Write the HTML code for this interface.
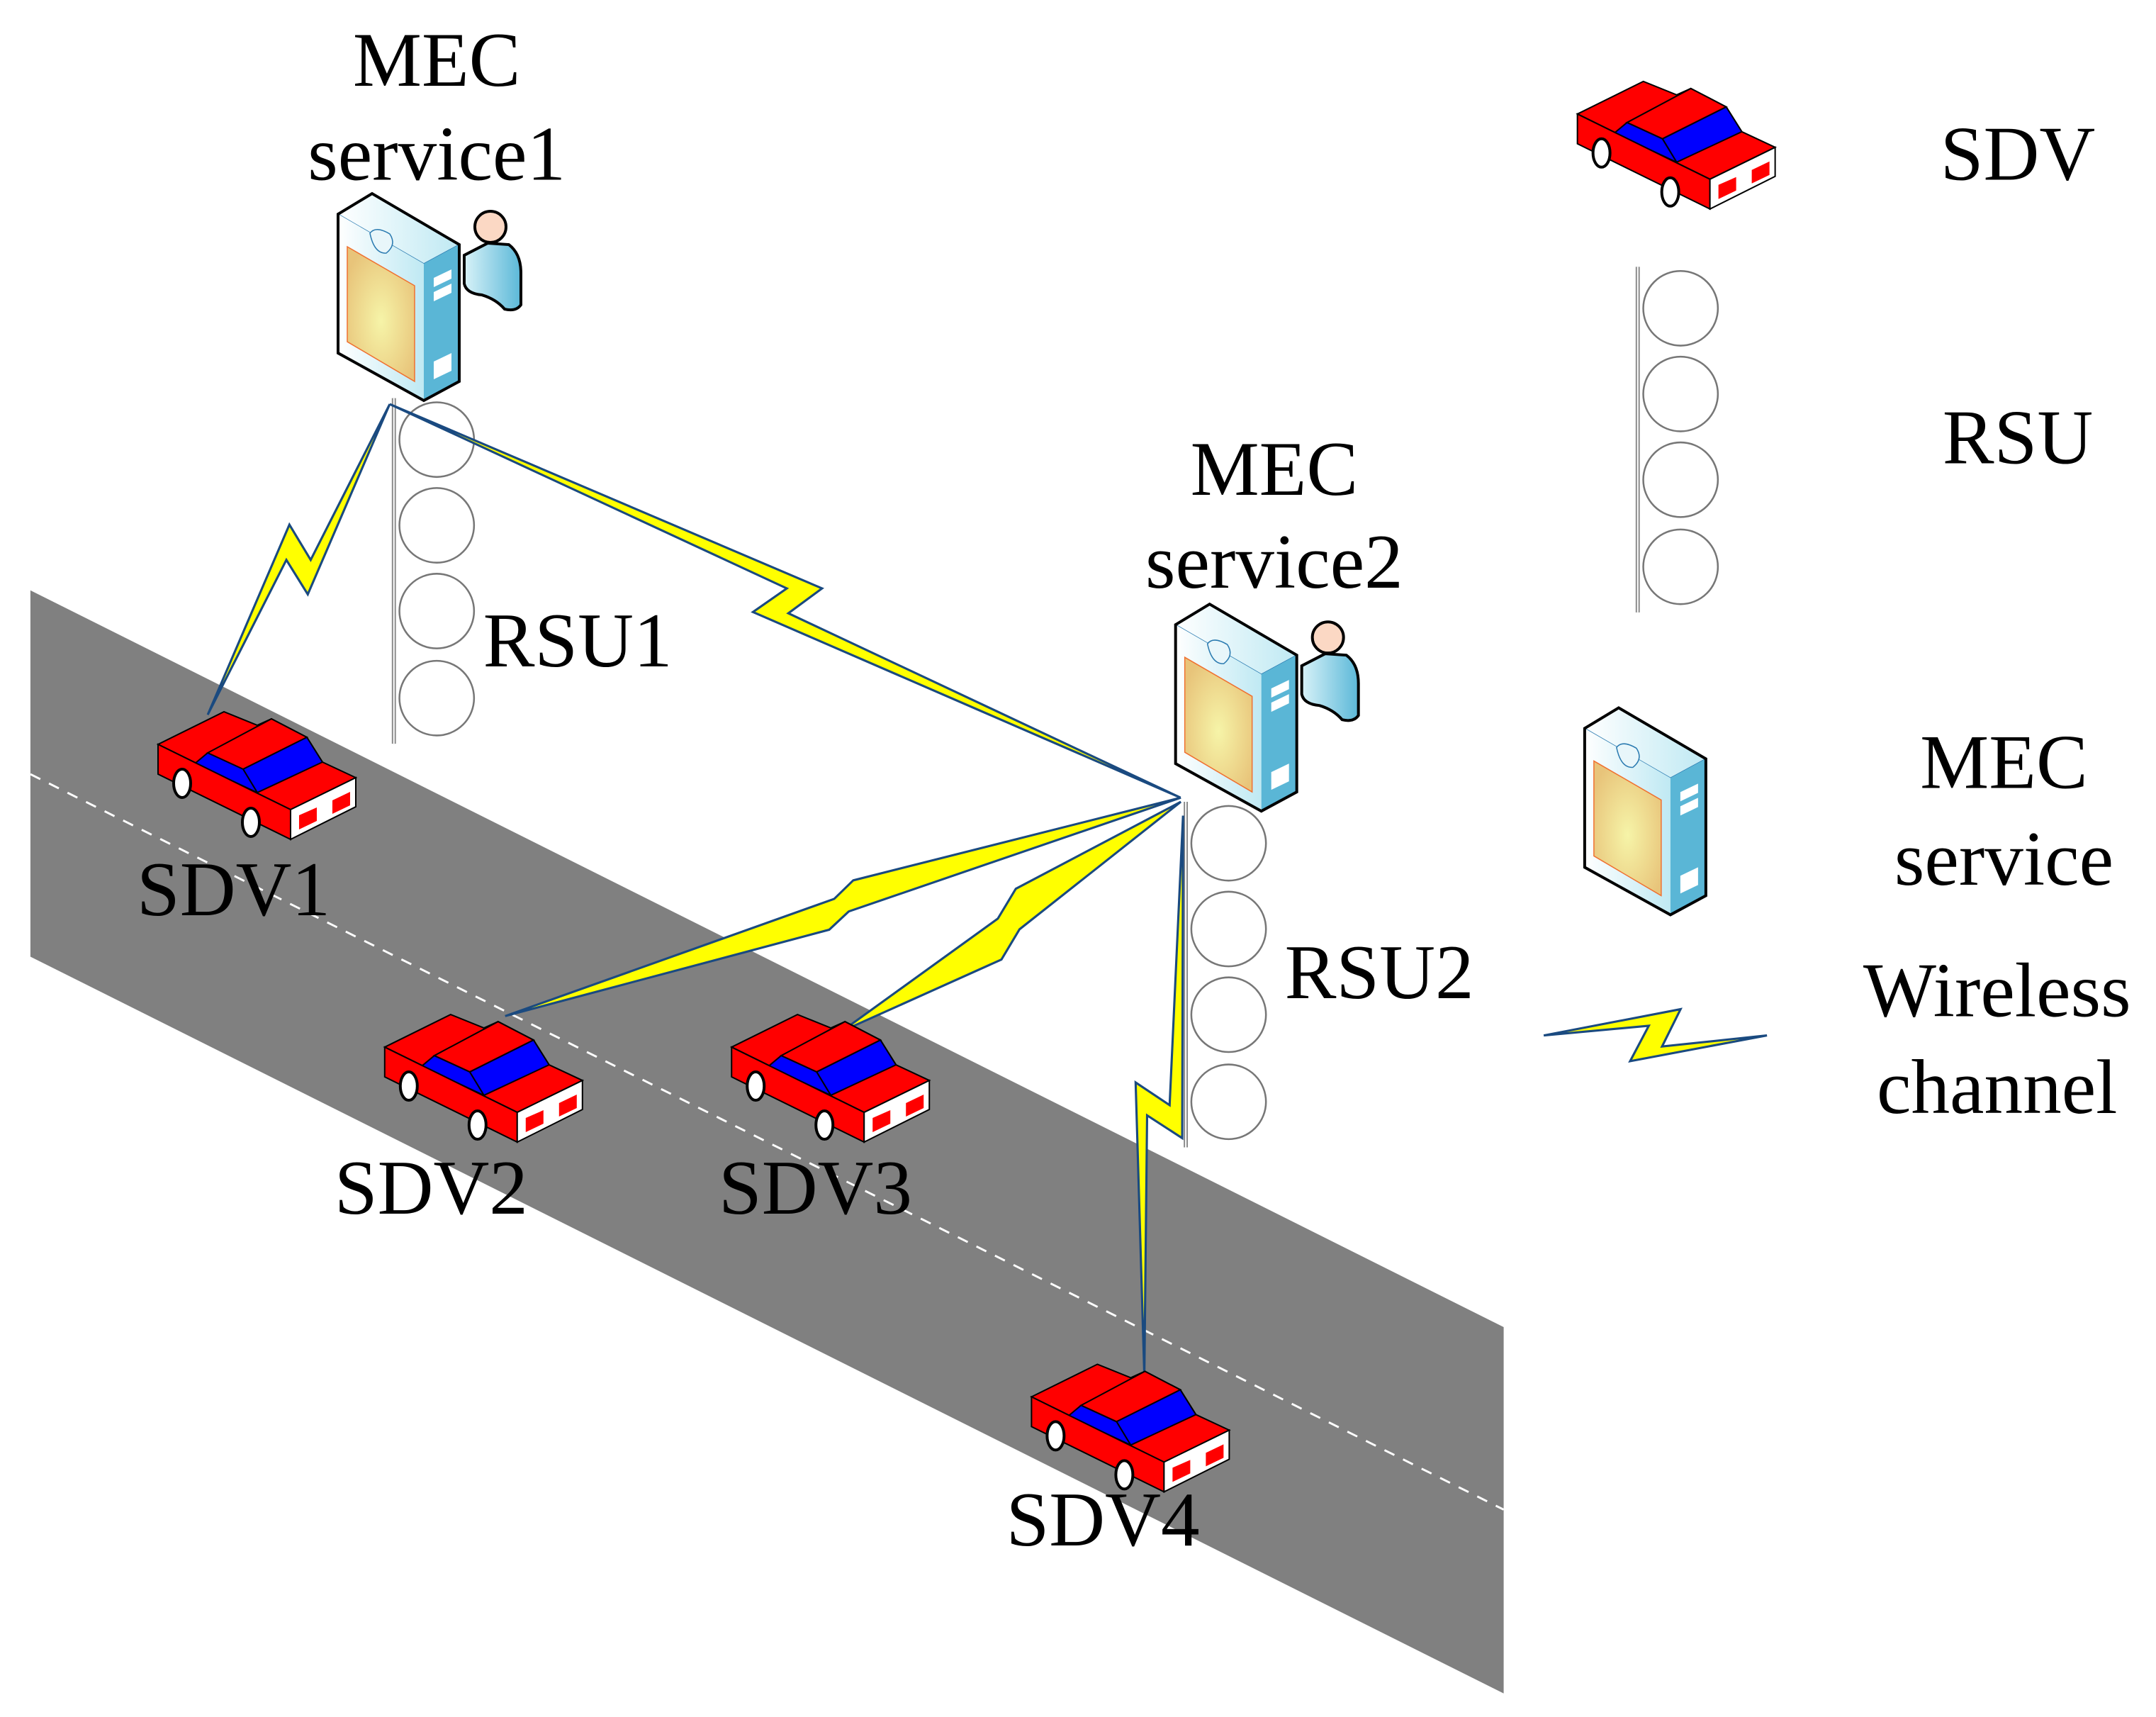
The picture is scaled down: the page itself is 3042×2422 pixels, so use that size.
<!DOCTYPE html>
<html><head><meta charset="utf-8"><style>
html,body{margin:0;padding:0;background:#fff}
svg{display:block}
text{font-family:"Liberation Serif",serif;font-size:56px;fill:#000}
</style></head><body>
<svg width="3042" height="2422" viewBox="0 0 1560 1242" xmlns="http://www.w3.org/2000/svg">
<defs>
<linearGradient id="fg" x1="0" y1="0" x2="1" y2="0"><stop offset="0" stop-color="#ffffff"/><stop offset="1" stop-color="#bfe9f3"/></linearGradient>
<radialGradient id="og" cx="0.5" cy="0.55" r="0.6"><stop offset="0" stop-color="#f6f4a8"/><stop offset="1" stop-color="#e8c47a"/></radialGradient>
<linearGradient id="pg" x1="0" y1="0" x2="1" y2="0"><stop offset="0" stop-color="#d8f2f8"/><stop offset="1" stop-color="#5bb8d8"/></linearGradient>
<g id="car">
 <polygon points="223,1050 316,1004 363,1023 383,1014 433,1040 455,1075 502,1097 410,1142 223,1050" fill="#ff0000" stroke="#000" stroke-width="2"/>
 <polygon points="383,1014 433,1040 343,1085 293,1062" fill="#ff0000" stroke="#000" stroke-width="2"/>
 <polygon points="433,1040 455,1075 363,1118 343,1085" fill="#0000ff" stroke="#000" stroke-width="2"/>
 <polygon points="275,1077 293,1062 343,1085 363,1118" fill="#0000ff" stroke="#000" stroke-width="2"/>
 <polygon points="223,1050 410,1142 410,1184 223,1092" fill="#ff0000" stroke="#000" stroke-width="2"/>
 <polygon points="410,1142 502,1097 502,1138 410,1184" fill="#fff" stroke="#000" stroke-width="2"/>
 <polygon points="422,1150 447,1139 447,1158 422,1170" fill="#ff0000"/>
 <polygon points="469,1129 494,1117 494,1136 469,1148" fill="#ff0000"/>
 <ellipse cx="257" cy="1105" rx="12" ry="20" fill="#fff" stroke="#000" stroke-width="4"/>
 <ellipse cx="354" cy="1160" rx="12" ry="20" fill="#fff" stroke="#000" stroke-width="4"/>
</g>
<g id="srv">
 <polygon points="477,302 525,273 648,345 598,372" fill="url(#fg)" stroke="#2a7ab0" stroke-width="1.5"/>
 <polygon points="477,302 598,372 598,565 477,498" fill="url(#fg)"/>
 <polygon points="598,372 648,345 648,538 598,565" fill="#5ab6d6"/>
 <polygon points="490,348 585,403 585,538 490,482" fill="url(#og)" stroke="#f07030" stroke-width="1.5"/>
 <path d="M522,329 Q530,318 550,330 Q560,345 545,357 Q528,358 522,329Z" fill="#e8f6fa" stroke="#2a7ab0" stroke-width="1.5"/>
 <polygon points="612,392 637,380 637,393 612,405" fill="#fff"/>
 <polygon points="612,412 637,400 637,413 612,425" fill="#fff"/>
 <polygon points="612,510 637,498 637,523 612,535" fill="#fff"/>
 <polygon points="477,302 525,273 648,345 648,538 598,565 477,498" fill="none" stroke="#000" stroke-width="4"/>
</g>
<g id="per">
 <path d="M655,360 L688,343 L718,345 Q735,358 735,385 L735,430 Q728,440 712,436 Q700,422 680,416 Q658,414 655,400Z" fill="url(#pg)" stroke="#000" stroke-width="4"/>
 <circle cx="692" cy="320" r="22" fill="#fbd8c4" stroke="#000" stroke-width="4"/>
</g>
<g id="rsu">
 <line x1="0" y1="0" x2="0" y2="250" stroke="#888" stroke-width="3"/>
 <line x1="0" y1="0" x2="0" y2="250" stroke="#fff" stroke-width="1"/>
 <circle cx="31" cy="30" r="27" fill="#fff" stroke="#777" stroke-width="1.3"/>
 <circle cx="31" cy="92" r="27" fill="#fff" stroke="#777" stroke-width="1.3"/>
 <circle cx="31" cy="154" r="27" fill="#fff" stroke="#777" stroke-width="1.3"/>
 <circle cx="31" cy="217" r="27" fill="#fff" stroke="#777" stroke-width="1.3"/>
</g>
</defs>
<polygon points="22,427 1088,960 1088,1225 22,692" fill="#808080"/>
<line x1="22" y1="560" x2="1088" y2="1092" stroke="#fff" stroke-width="1.5" stroke-dasharray="8,7"/>

<use href="#rsu" x="285" y="288"/>
<use href="#rsu" x="858" y="580"/>
<use href="#rsu" x="1185" y="193"/>

<g transform="scale(0.5128)"><use href="#srv"/><use href="#per"/></g>
<g transform="translate(606,297) scale(0.5128)"><use href="#srv"/><use href="#per"/></g>
<g transform="translate(902,372) scale(0.5128)"><use href="#srv"/></g>

<g fill="#ffff00" stroke="#1a4a80" stroke-width="1.6" stroke-linejoin="miter">
 <polygon points="282,292.3 222.7,429.9 207.2,405 150.3,517 209.4,379.5 224.8,405"/>
 <polygon points="282,292.3 594.8,425.6 570.4,443.6 854.2,577 544.8,442.7 569.3,425.6"/>
 <polygon points="854.4,577 617.4,636.8 603.6,650.2 365.5,735 600,672.5 614.1,659.3"/>
 <polygon points="854.4,580 735,642.9 722,664.5 609,746 724.6,694.1 737.7,672.2"/>
 <polygon points="856,590 855.4,823.3 830,806.8 828,995 821.7,783 846.3,799.4"/>
 <polygon points="1117,749 1216,730 1202.6,757 1278.5,749 1179.5,767.6 1193,742"/>
</g>

<g transform="scale(0.5128)"><use href="#car"/></g>
<g transform="translate(164,219) scale(0.5128)"><use href="#car"/></g>
<g transform="translate(415,219) scale(0.5128)"><use href="#car"/></g>
<g transform="translate(632,472) scale(0.5128)"><use href="#car"/></g>
<g transform="translate(1027,-456) scale(0.5128)"><use href="#car"/></g>

<g text-anchor="middle">
<text x="316" y="62">MEC</text><text x="316" y="130">service1</text>
<text x="922" y="358">MEC</text><text x="922" y="425">service2</text>
<text x="418" y="482">RSU1</text><text x="998" y="722">RSU2</text>
<text x="169" y="662">SDV1</text><text x="312" y="878">SDV2</text>
<text x="590" y="878">SDV3</text><text x="798" y="1118">SDV4</text>
<text x="1460" y="130">SDV</text><text x="1460" y="335">RSU</text>
<text x="1450" y="570">MEC</text><text x="1450" y="640">service</text>
<text x="1445" y="735">Wireless</text><text x="1445" y="805">channel</text>
</g>
</svg>
</body></html>
